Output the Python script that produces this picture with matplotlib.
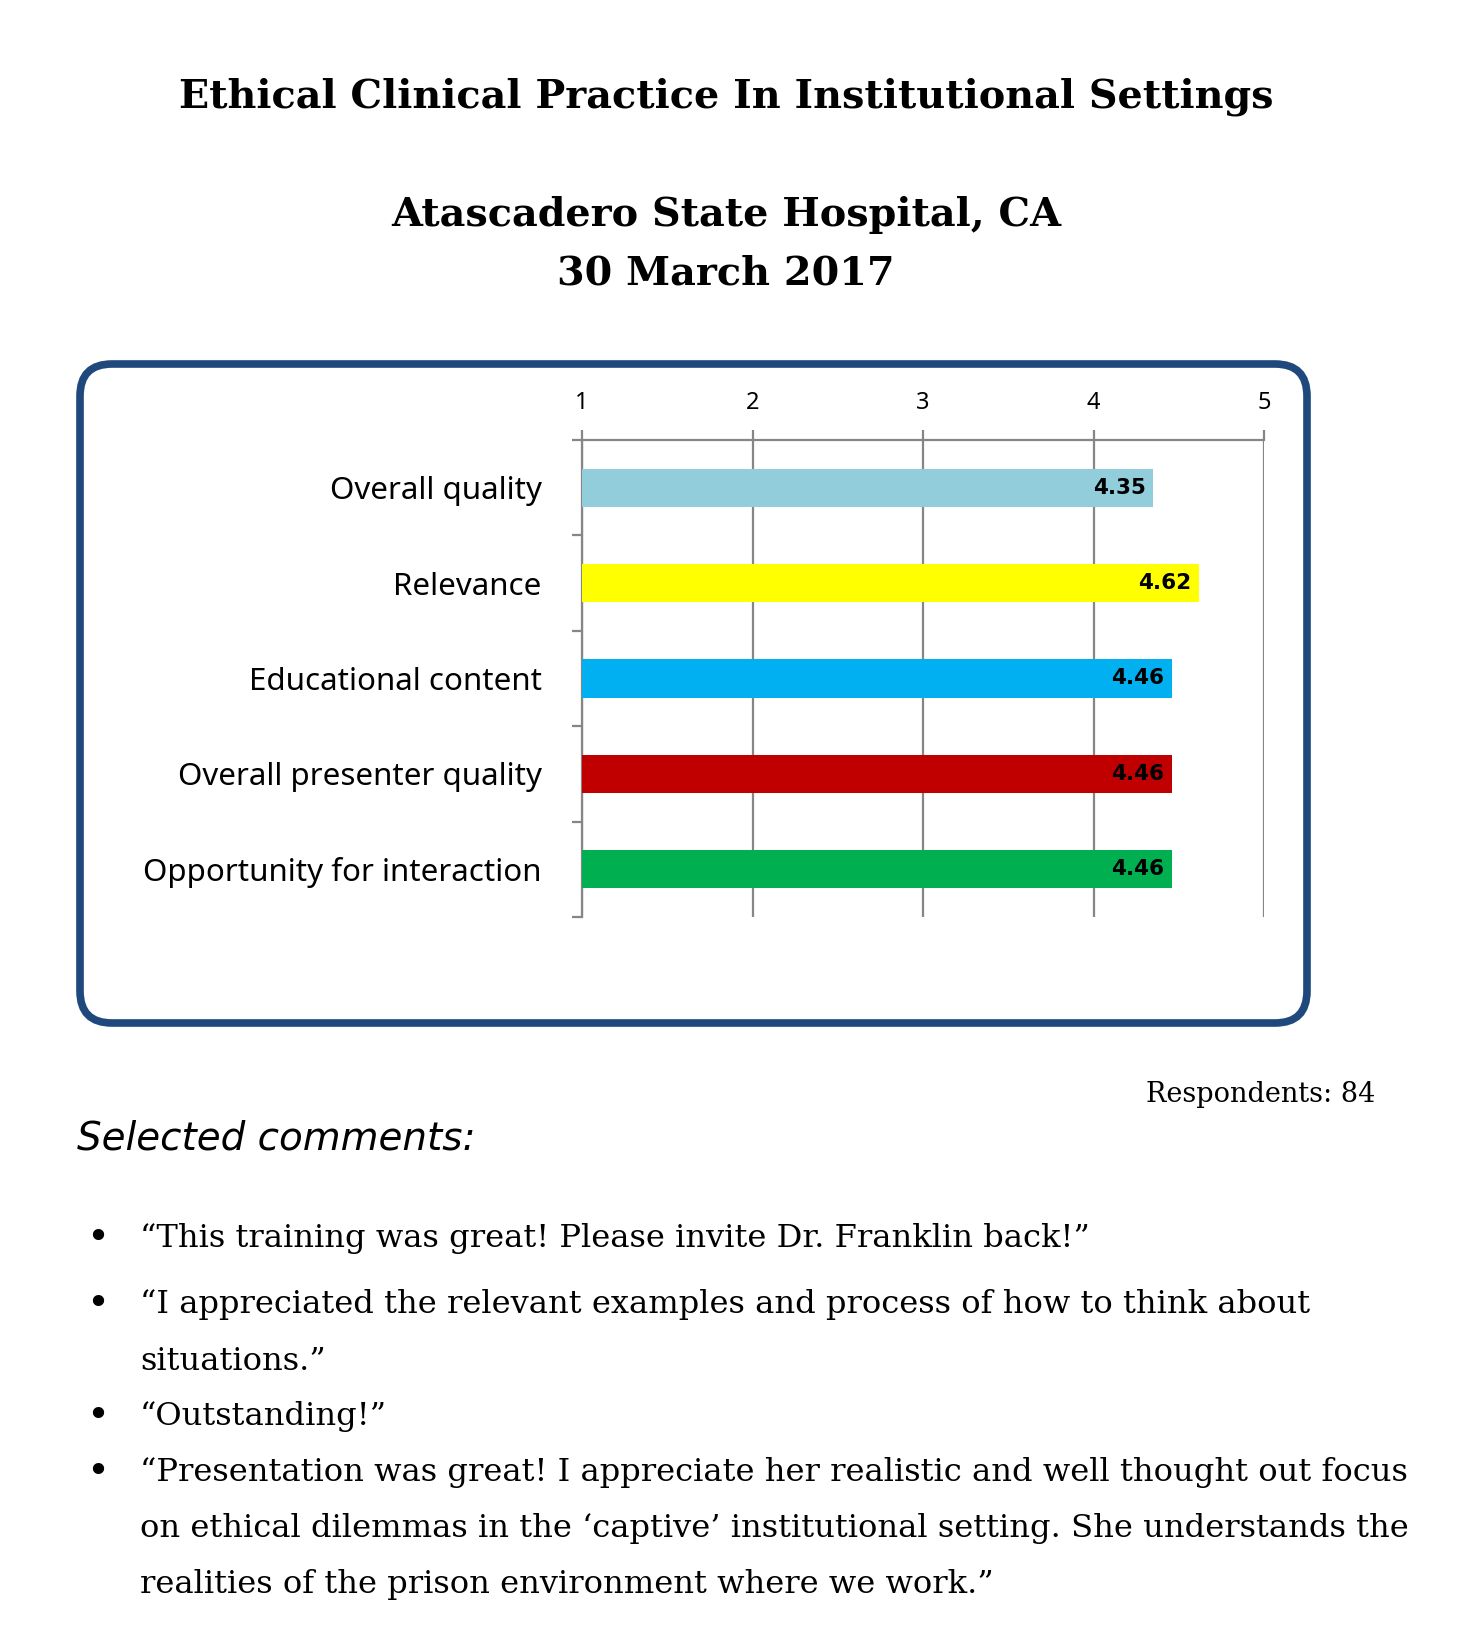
import matplotlib
matplotlib.use("Agg")
from matplotlib import pyplot as plt
from matplotlib.patches import FancyBboxPatch
import numpy as np

# survey data
categories = ["Overall quality", "Relevance", "Educational content",
              "Overall presenter quality", "Opportunity for interaction"]
scores = [4.35, 4.62, 4.46, 4.46, 4.46]
bar_colors = ["#92CDDC", "#FFFF00", "#00B0F0", "#C00000", "#00B050"]
scale_ticks = [1, 2, 3, 4, 5]

title = "Ethical Clinical Practice In Institutional Settings"
subtitle = ["Atascadero State Hospital, CA", "30 March 2017"]
respondents = "Respondents: 84"
comments_head = "Selected comments:"
comment_lines = [
    ("\u2022", "\u201cThis training was great! Please invite Dr. Franklin back!\u201d"),
    ("\u2022", "\u201cI appreciated the relevant examples and process of how to think about"),
    ("", "situations.\u201d"),
    ("\u2022", "\u201cOutstanding!\u201d"),
    ("\u2022", "\u201cPresentation was great! I appreciate her realistic and well thought out focus"),
    ("", "on ethical dilemmas in the \u2018captive\u2019 institutional setting. She understands the"),
    ("", "realities of the prison environment where we work.\u201d"),
]

W, H = 1477, 1648
fig = plt.figure(figsize=(W / 100, H / 100), dpi=100)

# page layer in pixel coordinates
bg = fig.add_axes([0, 0, 1, 1])
bg.set_xlim(0, W)
bg.set_ylim(H, 0)
bg.axis("off")

serif = "DejaVu Serif"
bg.text(726, 97, title, ha="center", va="center", fontsize=28.6, fontweight="bold", family=serif)
bg.text(726, 215, subtitle[0], ha="center", va="center", fontsize=28.6, fontweight="bold", family=serif)
bg.text(726, 273, subtitle[1], ha="center", va="center", fontsize=28.6, fontweight="bold", family=serif)

box = FancyBboxPatch((80, 364), 1227, 659, boxstyle="round,pad=0,rounding_size=32",
                     linewidth=5.5, edgecolor="#1F497D", facecolor="none")
bg.add_patch(box)

bg.text(1375, 1095, respondents, ha="right", va="center", fontsize=19.5, family=serif)
bg.text(77, 1139, comments_head, ha="left", va="center", fontsize=28, style="italic", family="DejaVu Sans")

line_y = [1239, 1305, 1361, 1417, 1473, 1528, 1584]
for (bullet, txt), yy in zip(comment_lines, line_y):
    if bullet:
        bg.text(98, yy, bullet, ha="center", va="center", fontsize=28, family=serif)
    bg.text(140, yy, txt, ha="left", va="center", fontsize=23.1, family=serif)

# bar chart
ax_l, ax_r, ax_t, ax_b = 582, 1264, 440, 917
ax = fig.add_axes([ax_l / W, 1 - ax_b / H, (ax_r - ax_l) / W, (ax_b - ax_t) / H])
ypos = np.arange(len(categories))
ax.barh(ypos, scores, height=0.4, color=bar_colors, zorder=3)
ax.set_xlim(1, 5)
ax.set_ylim(len(categories) - 0.5, -0.5)
ax.set_xticks(scale_ticks)
ax.xaxis.tick_top()
ax.grid(axis="x", color="#868686", linewidth=1.6, zorder=0)
ax.set_yticks(ypos)
ax.set_yticklabels(categories, fontsize=22.5, family="Noto Sans")
ax.set_yticks(np.arange(len(categories) + 1) - 0.5, minor=True)
ax.tick_params(axis="y", which="major", length=0, pad=29)
ax.tick_params(axis="y", which="minor", length=7, width=1.6, color="#868686")
ax.tick_params(axis="x", length=7, width=1.6, color="#868686", labelsize=17, pad=11)
for lab in ax.get_xticklabels():
    lab.set_family("Noto Sans")
for s in ["right", "bottom"]:
    ax.spines[s].set_visible(False)
for s in ["left", "top"]:
    ax.spines[s].set_color("#868686")
    ax.spines[s].set_linewidth(1.6)

for y, v in zip(ypos, scores):
    ax.text(v - 0.045, y, f"{v:.2f}", ha="right", va="center", fontsize=15.5,
            fontweight="heavy", family="DejaVu Sans", zorder=4)

fig.savefig("out.png", dpi=100)
